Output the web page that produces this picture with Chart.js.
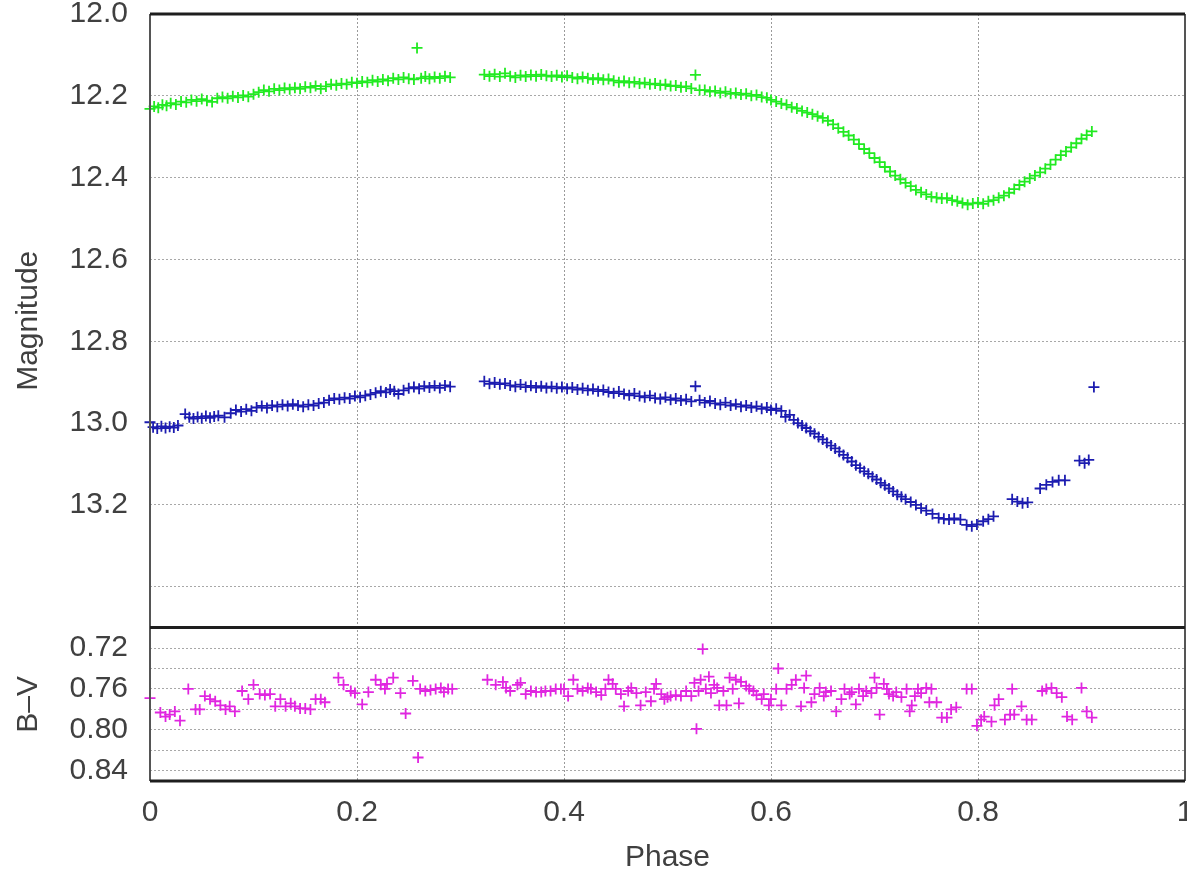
<!DOCTYPE html>
<html>
<head>
<meta charset="utf-8">
<script src="https://cdn.jsdelivr.net/npm/chart.js@4"></script>
<style>
  body { margin: 0; background: #fff; }
  #wrap { width: 1187px; height: 873px; }
</style>
</head>
<body>
<div id="wrap"><canvas id="lc" width="1187" height="873"></canvas></div>
<script>
// axis ticks
const phaseTicks = [0, 0.2, 0.4, 0.6, 0.8, 1];
const phaseLabels = ['0', '0.2', '0.4', '0.6', '0.8', '1'];
const magTicks = [12.0, 12.2, 12.4, 12.6, 12.8, 13.0, 13.2, 13.4];
const magLabels = ['12.0', '12.2', '12.4', '12.6', '12.8', '13.0', '13.2', ''];
const bvTicks = [0.72, 0.74, 0.76, 0.78, 0.80, 0.82, 0.84];
const bvLabels = ['0.72', '', '0.76', '', '0.80', '', '0.84'];

// green light curve
const greenPhase = [
  0.000, 0.004, 0.008, 0.012, 0.016, 0.020, 0.025, 0.030, 0.035, 0.040, 0.045, 0.050, 0.055, 0.060, 0.065,
  0.070, 0.075, 0.080, 0.085, 0.090, 0.095, 0.100, 0.105, 0.110, 0.115, 0.120, 0.125, 0.130, 0.135, 0.140,
  0.145, 0.150, 0.155, 0.160, 0.165, 0.170, 0.175, 0.180, 0.185, 0.190, 0.195, 0.200, 0.205, 0.210, 0.215,
  0.220, 0.225, 0.230, 0.235, 0.240, 0.245, 0.250, 0.255, 0.258, 0.262, 0.266, 0.270, 0.275, 0.280, 0.285, 0.290,
  0.323, 0.328, 0.333, 0.338, 0.343, 0.348, 0.353, 0.358, 0.363, 0.368, 0.373, 0.378, 0.383, 0.388, 0.393,
  0.398, 0.403, 0.408, 0.413, 0.418, 0.423, 0.428, 0.433, 0.438, 0.443, 0.448, 0.453, 0.458, 0.463, 0.468,
  0.473, 0.478, 0.483, 0.488, 0.493, 0.498, 0.503, 0.508, 0.513, 0.518, 0.523, 0.527, 0.531, 0.536, 0.541,
  0.546, 0.551, 0.556, 0.561, 0.566, 0.571, 0.576, 0.581, 0.586, 0.591, 0.596,
  0.600, 0.605, 0.610, 0.615, 0.620, 0.625, 0.630, 0.635, 0.640, 0.645, 0.650, 0.655, 0.660, 0.665, 0.670,
  0.675, 0.680, 0.685, 0.690, 0.695, 0.700, 0.705, 0.710, 0.715, 0.720, 0.725, 0.730, 0.735, 0.740, 0.745,
  0.750, 0.755, 0.760, 0.765, 0.770, 0.775, 0.780, 0.785, 0.790, 0.795, 0.800, 0.805, 0.810, 0.815, 0.820,
  0.825, 0.830, 0.835, 0.840, 0.845, 0.850, 0.855, 0.860, 0.865, 0.870, 0.875, 0.880, 0.885, 0.890, 0.895,
  0.900, 0.905, 0.910
];
const greenMag = [
  12.232, 12.226, 12.229, 12.222, 12.224, 12.218, 12.221, 12.214, 12.216, 12.210, 12.213, 12.208, 12.212, 12.215, 12.206,
  12.203, 12.206, 12.201, 12.204, 12.199, 12.202, 12.196, 12.191, 12.186, 12.189, 12.183, 12.186, 12.181, 12.184, 12.180,
  12.183, 12.178, 12.180, 12.176, 12.183, 12.177, 12.172, 12.174, 12.170, 12.172, 12.167, 12.169, 12.165, 12.167, 12.162,
  12.165, 12.160, 12.163, 12.157, 12.160, 12.155, 12.158, 12.160, 12.083, 12.157, 12.153, 12.158, 12.154, 12.157, 12.152, 12.155,
  12.148, 12.152, 12.147, 12.153, 12.145, 12.152, 12.155, 12.150, 12.153, 12.149, 12.152, 12.148, 12.151, 12.153, 12.150,
  12.154, 12.151, 12.155, 12.158, 12.154, 12.157, 12.160, 12.157, 12.161, 12.159, 12.163, 12.167, 12.164, 12.168, 12.166,
  12.170, 12.168, 12.172, 12.170, 12.174, 12.172, 12.176, 12.175, 12.179, 12.177, 12.182, 12.149, 12.186, 12.186, 12.190,
  12.188, 12.193, 12.190, 12.195, 12.193, 12.197, 12.195, 12.200, 12.198, 12.203, 12.205,
  12.210, 12.214, 12.219, 12.222, 12.228, 12.231, 12.237, 12.241, 12.245, 12.250, 12.254, 12.261, 12.270, 12.279, 12.288,
  12.297, 12.307, 12.318, 12.330, 12.340, 12.352, 12.362, 12.374, 12.385, 12.395, 12.404, 12.413, 12.421, 12.430, 12.436,
  12.441, 12.447, 12.449, 12.451, 12.450, 12.455, 12.458, 12.462, 12.466, 12.463, 12.461, 12.464, 12.458, 12.455, 12.449,
  12.444, 12.437, 12.428, 12.418, 12.410, 12.402, 12.395, 12.387, 12.378, 12.368, 12.356, 12.345, 12.336, 12.326, 12.316,
  12.305, 12.296, 12.287
];

// blue light curve
const bluePhase = [
  0.000, 0.003, 0.007, 0.011, 0.015, 0.019, 0.023, 0.027, 0.034, 0.038, 0.042, 0.046, 0.050, 0.054, 0.058,
  0.062, 0.066, 0.072, 0.078, 0.083, 0.088, 0.093, 0.098, 0.103, 0.108, 0.113, 0.118, 0.123, 0.128, 0.133,
  0.138, 0.143, 0.148, 0.153, 0.158, 0.163, 0.168, 0.173, 0.178, 0.183, 0.188, 0.193, 0.198, 0.203, 0.208,
  0.213, 0.218, 0.223, 0.228, 0.232, 0.236, 0.240, 0.245, 0.250, 0.255, 0.260, 0.265, 0.270, 0.275, 0.280,
  0.285, 0.290,
  0.323, 0.328, 0.333, 0.338, 0.343, 0.348, 0.353, 0.358, 0.363, 0.368, 0.373, 0.378, 0.383, 0.388, 0.393,
  0.398, 0.403, 0.408, 0.413, 0.418, 0.423, 0.428, 0.433, 0.438, 0.443, 0.448, 0.453, 0.458, 0.463, 0.468,
  0.473, 0.478, 0.483, 0.488, 0.493, 0.498, 0.503, 0.508, 0.513, 0.518, 0.523, 0.527, 0.531, 0.536, 0.541,
  0.546, 0.551, 0.556, 0.561, 0.566, 0.571, 0.576, 0.581, 0.586, 0.591, 0.596, 0.600, 0.605, 0.610, 0.614,
  0.618, 0.622, 0.626, 0.630, 0.634, 0.638, 0.642, 0.646, 0.650, 0.654, 0.658, 0.662, 0.666, 0.670, 0.674,
  0.678, 0.682, 0.686, 0.690, 0.694, 0.698, 0.702, 0.706, 0.710, 0.714, 0.718, 0.722, 0.726, 0.730, 0.735,
  0.740, 0.745, 0.750, 0.756, 0.762, 0.767, 0.772, 0.777, 0.783, 0.789, 0.794, 0.799, 0.805, 0.810, 0.815,
  0.833, 0.838, 0.843, 0.848, 0.860, 0.866, 0.872, 0.878, 0.884, 0.898, 0.903, 0.907, 0.912
];
const blueMag = [
  12.998, 13.010, 13.013, 13.008, 13.012, 13.009, 13.011, 13.006, 12.978, 12.986, 12.989, 12.985, 12.988, 12.983, 12.987,
  12.984, 12.982, 12.986, 12.976, 12.968, 12.972, 12.966, 12.970, 12.962, 12.958, 12.963, 12.957, 12.960, 12.955, 12.958,
  12.954, 12.957, 12.960, 12.955, 12.957, 12.952, 12.950, 12.944, 12.940, 12.942, 12.938, 12.940, 12.934, 12.937, 12.933,
  12.930, 12.926, 12.922, 12.925, 12.918, 12.922, 12.929, 12.920, 12.915, 12.912, 12.916, 12.910, 12.913, 12.909, 12.914,
  12.908, 12.911,
  12.898, 12.904, 12.901, 12.905, 12.903, 12.908, 12.911, 12.906, 12.912, 12.909, 12.913, 12.910, 12.914, 12.911, 12.915,
  12.912, 12.916, 12.913, 12.918, 12.915, 12.920, 12.917, 12.922, 12.919, 12.924, 12.927, 12.923, 12.929, 12.932, 12.928,
  12.934, 12.937, 12.933, 12.939, 12.941, 12.937, 12.943, 12.940, 12.945, 12.942, 12.947, 12.910, 12.944, 12.950, 12.946,
  12.952, 12.955, 12.950, 12.957, 12.954, 12.960, 12.957, 12.962, 12.959, 12.965, 12.962, 12.968, 12.965, 12.970, 12.985,
  12.980, 12.992, 13.000, 13.006, 13.012, 13.020, 13.026, 13.034, 13.040, 13.048, 13.055, 13.062, 13.070, 13.078, 13.085,
  13.094, 13.103, 13.110, 13.118, 13.124, 13.131, 13.138, 13.146, 13.152, 13.160, 13.167, 13.175, 13.180, 13.186, 13.193,
  13.200, 13.208, 13.214, 13.222, 13.232, 13.234, 13.236, 13.233, 13.236, 13.249, 13.252, 13.248, 13.240, 13.235, 13.228,
  13.186, 13.192, 13.196, 13.194, 13.160, 13.151, 13.144, 13.140, 13.140, 13.092, 13.098, 13.090, 12.912
];

// colour index B-V
const bvPhase = [
  0.000, 0.010, 0.015, 0.019, 0.024, 0.029, 0.037, 0.044, 0.048, 0.053, 0.058, 0.063, 0.068, 0.073, 0.077,
  0.082, 0.089, 0.095, 0.100, 0.106, 0.111, 0.116, 0.121, 0.126, 0.131, 0.136, 0.140, 0.145, 0.150, 0.155,
  0.160, 0.165, 0.169, 0.182, 0.187, 0.194, 0.198, 0.205, 0.211, 0.218, 0.223, 0.227, 0.229, 0.235, 0.242,
  0.247, 0.254, 0.259, 0.261, 0.266, 0.271, 0.276, 0.281, 0.284, 0.288, 0.292,
  0.326, 0.334, 0.341, 0.344, 0.348, 0.355, 0.358, 0.363, 0.368, 0.373, 0.378, 0.382, 0.387, 0.392, 0.397,
  0.400, 0.404, 0.409, 0.413, 0.418, 0.423, 0.426, 0.431, 0.436, 0.440, 0.443, 0.447, 0.450, 0.455, 0.458,
  0.462, 0.465, 0.470, 0.474, 0.479, 0.484, 0.487, 0.489, 0.494, 0.497, 0.500, 0.503, 0.508, 0.513, 0.518,
  0.523, 0.526, 0.528, 0.530, 0.532, 0.534, 0.537, 0.540, 0.542, 0.545, 0.548, 0.550, 0.554, 0.557, 0.560,
  0.563, 0.566, 0.569, 0.571, 0.576, 0.579, 0.583, 0.586, 0.591, 0.593, 0.598, 0.600, 0.605, 0.607, 0.610,
  0.615, 0.620, 0.624, 0.629, 0.632, 0.634, 0.639, 0.642, 0.647, 0.651, 0.653, 0.658, 0.663, 0.668, 0.671,
  0.676, 0.678, 0.682, 0.685, 0.689, 0.692, 0.697, 0.700, 0.702, 0.705, 0.709, 0.712, 0.714, 0.718, 0.721,
  0.726, 0.731, 0.734, 0.736, 0.739, 0.742, 0.745, 0.750, 0.753, 0.755, 0.760, 0.765, 0.770, 0.774, 0.779,
  0.789, 0.794, 0.799, 0.803, 0.806, 0.813, 0.816, 0.820, 0.826, 0.831, 0.833, 0.835, 0.842, 0.847, 0.852,
  0.862, 0.866, 0.871, 0.876, 0.881, 0.886, 0.891, 0.900, 0.905, 0.910
];
const bvValue = [
  0.769, 0.783, 0.787, 0.785, 0.782, 0.791, 0.760, 0.780, 0.780, 0.767, 0.770, 0.772, 0.776, 0.780, 0.777,
  0.782, 0.762, 0.770, 0.756, 0.765, 0.766, 0.765, 0.777, 0.770, 0.777, 0.774, 0.777, 0.779, 0.779, 0.780,
  0.770, 0.770, 0.773, 0.749, 0.756, 0.762, 0.764, 0.775, 0.763, 0.751, 0.756, 0.760, 0.755, 0.749, 0.764,
  0.784, 0.752, 0.827, 0.760, 0.762, 0.761, 0.760, 0.759, 0.763, 0.760, 0.760,
  0.751, 0.756, 0.753, 0.759, 0.762, 0.756, 0.754, 0.765, 0.762, 0.763, 0.763, 0.762, 0.762, 0.760, 0.760,
  0.760, 0.767, 0.751, 0.760, 0.762, 0.759, 0.760, 0.763, 0.766, 0.760, 0.751, 0.755, 0.760, 0.765, 0.777,
  0.762, 0.759, 0.764, 0.776, 0.763, 0.772, 0.760, 0.755, 0.765, 0.770, 0.768, 0.767, 0.766, 0.767, 0.762,
  0.767, 0.754, 0.799, 0.762, 0.751, 0.721, 0.760, 0.748, 0.764, 0.756, 0.759, 0.776, 0.762, 0.776, 0.749,
  0.760, 0.751, 0.774, 0.753, 0.757, 0.760, 0.762, 0.766, 0.770, 0.765, 0.776, 0.770, 0.760, 0.740, 0.776,
  0.760, 0.756, 0.751, 0.777, 0.759, 0.747, 0.773, 0.765, 0.759, 0.767, 0.763, 0.762, 0.782, 0.770, 0.760,
  0.765, 0.763, 0.775, 0.760, 0.767, 0.762, 0.764, 0.749, 0.759, 0.785, 0.755, 0.760, 0.765, 0.767, 0.763,
  0.768, 0.760, 0.782, 0.776, 0.767, 0.760, 0.764, 0.759, 0.773, 0.760, 0.773, 0.788, 0.788, 0.780, 0.778,
  0.760, 0.760, 0.796, 0.790, 0.787, 0.792, 0.776, 0.770, 0.790, 0.785, 0.760, 0.785, 0.777, 0.790, 0.790,
  0.762, 0.760, 0.759, 0.764, 0.768, 0.787, 0.790, 0.759, 0.782, 0.788
];

const fontFam = 'Arial, "Liberation Sans", sans-serif';
const textCol = '#404040';

function pts(xs, ys) {
  return xs.map((x, i) => ({ x: x, y: ys[i] }));
}

function fixTicks(values) {
  return function (scale) {
    scale.ticks = values.map(v => ({ value: v }));
  };
}

// frame round both panels
const framePlugin = {
  id: 'frame',
  afterDraw(chart) {
    const a = chart.chartArea;
    const mid = chart.scales.y.bottom;
    const ctx = chart.ctx;
    ctx.save();
    ctx.strokeStyle = '#555';
    ctx.lineWidth = 2;
    ctx.beginPath();
    ctx.moveTo(a.left, a.top);
    ctx.lineTo(a.left, a.bottom);
    ctx.moveTo(a.right, a.top);
    ctx.lineTo(a.right, a.bottom);
    ctx.stroke();
    ctx.strokeStyle = '#1e1e1e';
    ctx.lineWidth = 3;
    ctx.beginPath();
    ctx.moveTo(a.left, a.top);
    ctx.lineTo(a.right, a.top);
    ctx.moveTo(a.left, mid);
    ctx.lineTo(a.right, mid);
    ctx.moveTo(a.left, a.bottom);
    ctx.lineTo(a.right, a.bottom);
    ctx.stroke();
    ctx.restore();
  }
};

const crossStyle = { pointStyle: 'cross', pointRadius: 5.5, pointBorderWidth: 1.8, showLine: false, clip: 8 };

new Chart(document.getElementById('lc'), {
  type: 'scatter',
  data: {
    datasets: [
      Object.assign({ label: 'V', data: pts(greenPhase, greenMag), yAxisID: 'y',
        borderColor: '#22ea22', backgroundColor: '#22ea22' }, crossStyle),
      Object.assign({ label: 'B', data: pts(bluePhase, blueMag), yAxisID: 'y',
        borderColor: '#1c1cb0', backgroundColor: '#1c1cb0' }, crossStyle),
      Object.assign({ label: 'B-V', data: pts(bvPhase, bvValue), yAxisID: 'bv',
        borderColor: '#e026e0', backgroundColor: '#e026e0' }, crossStyle)
    ]
  },
  options: {
    responsive: false,
    animation: false,
    events: [],
    layout: { autoPadding: false, padding: { top: 14, right: 2, left: 0, bottom: 0 } },
    plugins: { legend: { display: false }, tooltip: { enabled: false } },
    scales: {
      x: {
        type: 'linear', min: 0, max: 1,
        afterBuildTicks: fixTicks(phaseTicks),
        afterFit(scale) { scale.height = 92; scale.paddingLeft = 0; scale.paddingRight = 0; },
        grid: { color: '#9a9a9a', lineWidth: 1, drawTicks: false },
        border: { display: false, dash: [2, 2] },
        ticks: {
          padding: 14, color: textCol, maxRotation: 0, autoSkip: false,
          font: { family: fontFam, size: 30 },
          callback: (v, i) => phaseLabels[i]
        },
        title: { display: true, text: 'Phase', color: textCol, padding: 0,
          font: { family: fontFam, size: 30, lineHeight: 1 } }
      },
      y: {
        type: 'linear', position: 'left', stack: 'panels', stackWeight: 4, weight: 1,
        reverse: true, min: 12.0, max: 13.5,
        afterBuildTicks: fixTicks(magTicks),
        afterFit(scale) { scale.width = 150; scale.paddingTop = 0; scale.paddingBottom = 0; },
        grid: { color: '#a8a8a8', lineWidth: 1, drawTicks: false },
        border: { display: false, dash: [2, 2] },
        ticks: {
          padding: 22, color: textCol, autoSkip: false,
          font: { family: fontFam, size: 30 },
          callback: (v, i) => magLabels[i]
        },
        title: { display: true, text: 'Magnitude', color: textCol, padding: { top: 14, bottom: 0 },
          font: { family: fontFam, size: 30, lineHeight: 1 } }
      },
      bv: {
        type: 'linear', position: 'left', stack: 'panels', stackWeight: 1, weight: 0,
        reverse: true, min: 0.70, max: 0.85,
        afterBuildTicks: fixTicks(bvTicks),
        afterFit(scale) { scale.width = 150; scale.paddingTop = 0; scale.paddingBottom = 0; },
        grid: { color: '#a8a8a8', lineWidth: 1, drawTicks: false },
        border: { display: false, dash: [2, 2] },
        ticks: {
          padding: 22, color: textCol, autoSkip: false,
          font: { family: fontFam, size: 30 },
          callback: (v, i) => bvLabels[i]
        },
        title: { display: true, text: 'B–V', color: textCol, padding: { top: 14, bottom: 0 },
          font: { family: fontFam, size: 30, lineHeight: 1 } }
      }
    }
  },
  plugins: [framePlugin]
});
</script>
</body>
</html>
